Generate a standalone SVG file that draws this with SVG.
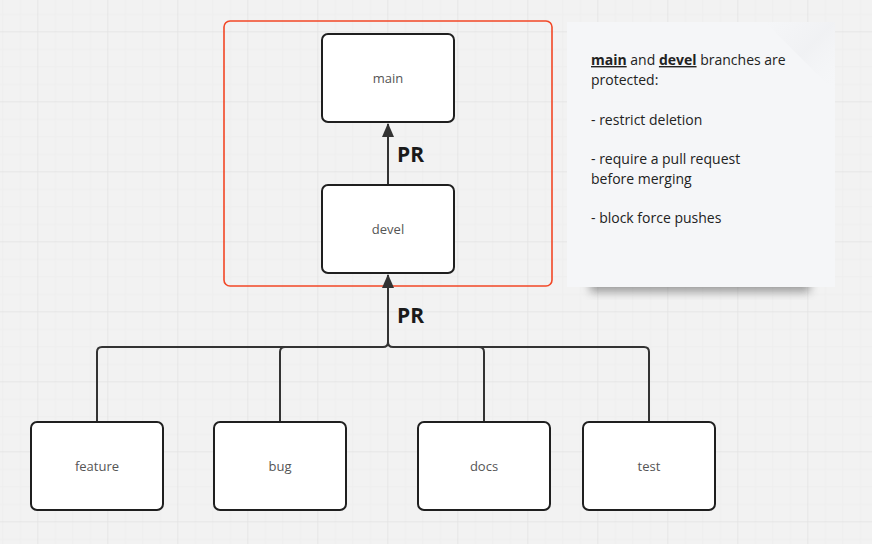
<svg xmlns="http://www.w3.org/2000/svg" width="872" height="544" viewBox="0 0 872 544">
<defs>
<pattern id="grid" x="37.3" y="31.3" width="70" height="70" patternUnits="userSpaceOnUse">
<rect width="70" height="70" fill="#f2f2f2"/>
<rect x="17.5" y="0" width="1" height="70" fill="#eeeeee"/>
<rect x="35" y="0" width="1" height="70" fill="#eeeeee"/>
<rect x="52.5" y="0" width="1" height="70" fill="#eeeeee"/>
<rect x="0" y="17.5" width="70" height="1" fill="#eeeeee"/>
<rect x="0" y="35" width="70" height="1" fill="#eeeeee"/>
<rect x="0" y="52.5" width="70" height="1" fill="#eeeeee"/>
<rect x="-0.5" y="0" width="1.3" height="70" fill="#e3e3e3"/>
<rect x="0" y="-0.5" width="70" height="1.3" fill="#e3e3e3"/>
</pattern>
<marker id="arr" viewBox="0 0 14 12" refX="13" refY="6" markerWidth="14" markerHeight="12" markerUnits="userSpaceOnUse" orient="auto">
<path d="M0,0 L14,6 L0,12 Z" fill="#333"/>
</marker>
<filter id="shadow" x="-20%" y="-50%" width="140%" height="200%">
<feGaussianBlur stdDeviation="5"/>
</filter>
<linearGradient id="fold" x1="0" y1="0" x2="1" y2="1">
<stop offset="0" stop-color="#e9eaec" stop-opacity="0"/>
<stop offset="0.5" stop-color="#e6e7ea" stop-opacity="0.9"/>
<stop offset="1" stop-color="#f5f6f8" stop-opacity="0"/>
</linearGradient>
</defs>
<style>
.box{fill:#fff;stroke:#1f1f1f;stroke-width:2}
.lbl{font-family:"Open Sans","Liberation Sans",sans-serif;font-size:13px;fill:#555;text-anchor:middle}
.pr{font-family:"Open Sans","Liberation Sans",sans-serif;font-size:21px;font-weight:bold;fill:#1a1a1a}
.conn{fill:none;stroke:#333;stroke-width:2}
.note{font-family:"Open Sans","Liberation Sans",sans-serif;font-size:14px;fill:#222}
</style>
<rect width="872" height="544" fill="url(#grid)"/>

<g id="frame">
<rect x="224" y="21" width="328" height="265" rx="6" fill="none" stroke="#f24726" stroke-width="1.6"/>
</g>

<g id="connectors">
<path class="conn" d="M388,185 L388,124" marker-end="url(#arr)"/>
<path class="conn" d="M388,342 L388,275" marker-end="url(#arr)"/>
<path class="conn" d="M97,422 L97,352 Q97,347 102,347 L383,347 Q388,347 388,342"/>
<path class="conn" d="M280,422 L280,352 Q280,347 285,347 L383,347"/>
<path class="conn" d="M484,422 L484,352 Q484,347 479,347 L393,347 Q388,347 388,342"/>
<path class="conn" d="M649,422 L649,352 Q649,347 644,347 L479,347"/>
<text class="pr" x="397" y="162">PR</text>
<text class="pr" x="397" y="323">PR</text>
</g>

<g id="main">
<rect class="box" x="322" y="34" width="132" height="88" rx="6"/>
<text class="lbl" x="388" y="82.5">main</text>
</g>
<g id="devel">
<rect class="box" x="322" y="185" width="132" height="88" rx="6"/>
<text class="lbl" x="388" y="234">devel</text>
</g>
<g id="feature">
<rect class="box" x="31" y="422" width="132" height="88" rx="6"/>
<text class="lbl" x="97" y="470.5">feature</text>
</g>
<g id="bug">
<rect class="box" x="214" y="422" width="132" height="88" rx="6"/>
<text class="lbl" x="280" y="470.5">bug</text>
</g>
<g id="docs">
<rect class="box" x="418" y="422" width="132" height="88" rx="6"/>
<text class="lbl" x="484" y="470.5">docs</text>
</g>
<g id="test">
<rect class="box" x="583" y="422" width="132" height="88" rx="6"/>
<text class="lbl" x="649" y="470.5">test</text>
</g>

<g id="note">
<rect x="590" y="276" width="220" height="16" fill="#555" opacity="0.55" filter="url(#shadow)"/>
<rect x="567" y="22" width="268" height="265" fill="#f5f6f8"/>
<path d="M765,22 L835,22 L835,92 Z" fill="url(#fold)" opacity="0.35"/>
<text class="note" x="591" y="65"><tspan font-weight="bold" text-decoration="underline">main</tspan> and <tspan font-weight="bold" text-decoration="underline">devel</tspan> branches are</text>
<text class="note" x="591" y="85">protected:</text>
<text class="note" x="591" y="124.5">- restrict deletion</text>
<text class="note" x="591" y="163.5">- require a pull request</text>
<text class="note" x="591" y="183.5">before merging</text>
<text class="note" x="591" y="222.5">- block force pushes</text>
</g>
</svg>
